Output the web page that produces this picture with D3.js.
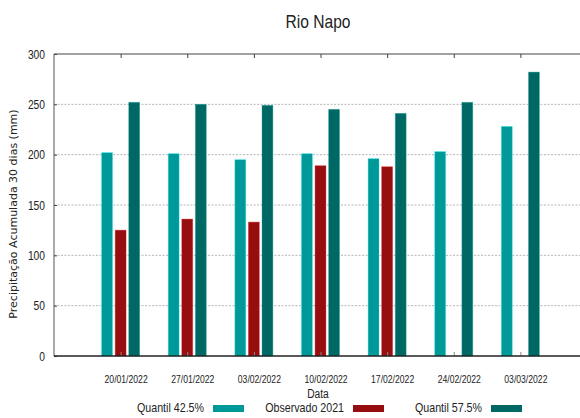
<!DOCTYPE html>
<html lang="pt-br">
<head>
  <meta charset="utf-8">
  <title>Rio Napo</title>
  <script src="https://d3js.org/d3.v7.min.js"></script>
  <style>
    body { margin: 0; background: #fff; }
    .narrow { font-family: "Liberation Sans Narrow", "Arial Narrow", "Liberation Sans", sans-serif; fill: #222; }
  </style>
</head>
<body>
  <div id="vis1"></div>
  <script>
    // dados
    var datas = ["20/01/2022", "27/01/2022", "03/02/2022", "10/02/2022", "17/02/2022", "24/02/2022", "03/03/2022"];
    var quantil425 = [202, 201, 195, 201, 196, 203, 228];
    var observado2021 = [125, 136, 133, 189, 188, null, null];
    var quantil575 = [252, 250, 249, 245, 241, 252, 282];
    var series = ["Quantil 42.5%", "Observado 2021", "Quantil 57.5%"];
    var cores = ["#009999", "#960e10", "#006864"];
    var yTicks = [0, 50, 100, 150, 200, 250, 300];

    var largura = 580, altura = 418;
    var margin = { top: 54, left: 54, bottom: 356, right: 587 };

    var svg = d3.select('#vis1').append('svg')
      .attr('width', largura)
      .attr('height', altura);

    var x = d3.scalePoint()
      .domain([""].concat(datas).concat([" "]))
      .range([margin.left, margin.right]);

    var xs = d3.scaleBand()
      .domain(series)
      .range([-19, 19])
      .paddingInner(0.2);

    var y = d3.scaleLinear()
      .domain([0, 300])
      .range([margin.bottom, margin.top]);

    // grade
    svg.append('g')
      .selectAll('line')
      .data(yTicks.filter(d => d > 0 && d < 300))
      .enter().append('line')
      .attr('x1', margin.left).attr('x2', largura)
      .attr('y1', d => y(d)).attr('y2', d => y(d))
      .attr('stroke', '#b5b5b5')
      .attr('stroke-width', 1)
      .attr('stroke-dasharray', '2,1.5');

    var valores = [quantil425, observado2021, quantil575];
    valores.forEach(function (vals, s) {
      svg.append('g')
        .selectAll('rect')
        .data(vals.map((v, i) => ({ data: datas[i], v: v })).filter(d => d.v != null))
        .enter().append('rect')
        .attr('x', d => x(d.data) + xs(series[s]))
        .attr('width', xs.bandwidth())
        .attr('y', d => y(d.v))
        .attr('height', d => y(0) - y(d.v))
        .attr('fill', cores[s])
        .attr('stroke', d3.color(cores[s]).brighter(1.2))
        .attr('stroke-opacity', 0.45)
        .attr('stroke-width', 0.8);
    });

    // eixos
    svg.append('g')
      .attr('transform', 'translate(0,' + margin.bottom + ')')
      .call(d3.axisBottom(x).tickValues(datas).tickSize(-4).tickPadding(20))
      .call(g => g.select('.domain').remove())
      .call(g => g.selectAll('line').attr('stroke', '#888'))
      .call(g => g.selectAll('text').attr('class', 'narrow').attr('font-size', '10.5px').attr('dx', 5));

    svg.append('g')
      .attr('transform', 'translate(0,' + margin.top + ')')
      .call(d3.axisTop(x).tickValues(datas).tickSize(-4).tickFormat(''))
      .call(g => g.select('.domain').remove())
      .call(g => g.selectAll('line').attr('stroke', '#444'));

    svg.append('g')
      .attr('transform', 'translate(' + margin.left + ',0)')
      .call(d3.axisLeft(y).tickValues(yTicks).tickSize(3).tickPadding(6))
      .call(g => g.select('.domain').remove())
      .call(g => g.selectAll('line').attr('stroke', '#444').attr('x2', 3).attr('x1', 0))
      .call(g => g.selectAll('text').attr('class', 'narrow').attr('font-size', '12.5px'));

    svg.append('line')
      .attr('x1', margin.left).attr('x2', margin.left)
      .attr('y1', margin.top).attr('y2', margin.bottom)
      .attr('stroke', '#555');
    svg.append('line')
      .attr('x1', margin.left).attr('x2', largura)
      .attr('y1', margin.top).attr('y2', margin.top)
      .attr('stroke', '#444');
    svg.append('line')
      .attr('x1', margin.left).attr('x2', largura)
      .attr('y1', margin.bottom).attr('y2', margin.bottom)
      .attr('stroke', '#222').attr('stroke-width', 1.3);

    // textos
    svg.append('text')
      .attr('class', 'narrow')
      .attr('x', 318).attr('y', 28)
      .attr('text-anchor', 'middle')
      .attr('font-size', '19px')
      .attr('fill', '#333')
      .text('Rio Napo');

    svg.append('text')
      .attr('transform', 'translate(17,214) rotate(-90)')
      .attr('text-anchor', 'middle')
      .attr('font-family', 'DejaVu Sans, Verdana, sans-serif')
      .attr('font-size', '11px')
      .attr('fill', '#222')
      .text('Precipitação Acumulada 30 dias (mm)');

    svg.append('text')
      .attr('class', 'narrow')
      .attr('x', 318).attr('y', 398)
      .attr('text-anchor', 'middle')
      .attr('font-size', '12.5px')
      .text('Data');

    // legenda
    var legX = [204, 344, 482];
    var leg = svg.append('g').selectAll('g')
      .data(series)
      .enter().append('g')
      .attr('transform', (d, i) => 'translate(' + legX[i] + ',412)');
    leg.append('text')
      .attr('class', 'narrow')
      .attr('text-anchor', 'end')
      .attr('font-size', '13px')
      .text(d => d);
    leg.append('rect')
      .attr('x', 9).attr('y', -7)
      .attr('width', 31).attr('height', 7)
      .attr('fill', (d, i) => cores[i]);

    // fonte estreita nao instalada: comprime o texto na horizontal
    svg.selectAll('text.narrow').each(function () {
      var w = this.getComputedTextLength();
      d3.select(this)
        .attr('textLength', w * 0.82)
        .attr('lengthAdjust', 'spacingAndGlyphs');
    });
  </script>
</body>
</html>
